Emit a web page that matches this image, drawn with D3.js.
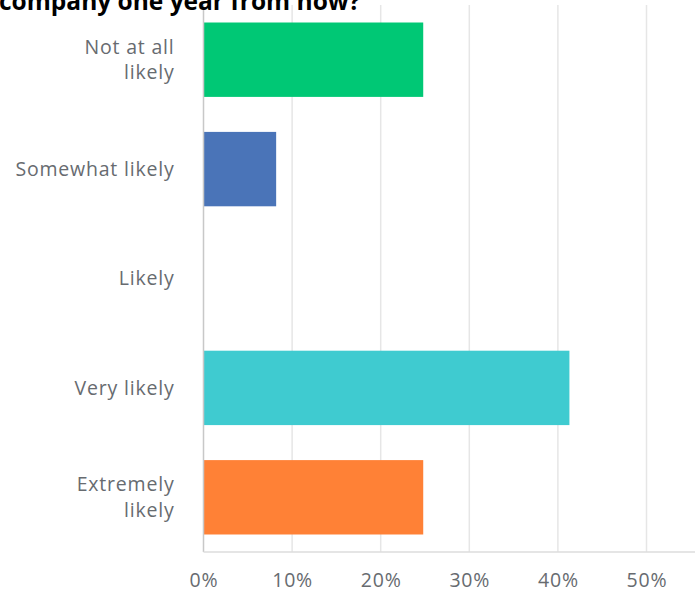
<!DOCTYPE html>
<meta charset="utf-8">
<style>
body { margin: 0; background: #fff; }
svg { display: block; }
.title { font-family: "Open Sans", sans-serif; font-weight: 700; font-size: 24.5px; fill: #000; }
.cat { font-family: "Open Sans", sans-serif; font-size: 19.5px; letter-spacing: 0.8px; fill: #676b70; }
.axis text { font-family: "Open Sans", sans-serif; font-size: 19.5px; letter-spacing: 0.8px; fill: #676b70; }
.grid line { stroke: #e6e6e6; stroke-width: 1.5px; }
</style>
<svg width="695" height="592"></svg>
<script src="https://cdnjs.cloudflare.com/ajax/libs/d3/7.8.5/d3.min.js"></script>
<script>
// answer choices (two-line labels split on "|")
var categories = ["Not at all|likely", "Somewhat likely", "Likely", "Very likely", "Extremely|likely"];
var values = [24.8, 8.2, 0, 41.3, 24.8];
var colors = ["#00c875", "#4a74b8", "#c0c0c0", "#3fcbd0", "#ff8136"];
var ticks = [0, 10, 20, 30, 40, 50];

var svg = d3.select("svg"),
    margin = {top: 5, right: 0, bottom: 40, left: 203.5},
    width = +svg.attr("width") - margin.left - margin.right,
    height = +svg.attr("height") - margin.top - margin.bottom,
    g = svg.append("g").attr("transform", "translate(" + margin.left + "," + margin.top + ")");

var x = d3.scaleLinear()
    .domain([0, 55])
    .range([0, 88.6 * 5.5]);

var y = d3.scaleBand()
    .domain(categories)
    .range([0, height])
    .paddingInner(0.32)
    .paddingOuter(0.16);

// title, cut off at the top of the picture
svg.append("text")
    .attr("class", "title")
    .attr("x", -1)
    .attr("y", 10)
    .text("company one year from now?");

// vertical grid lines
g.append("g")
    .attr("class", "grid")
  .selectAll("line")
  .data(ticks.slice(1))
  .enter().append("line")
    .attr("x1", function(d) { return x(d); })
    .attr("x2", function(d) { return x(d); })
    .attr("y1", 0)
    .attr("y2", height);

g.selectAll(".bar")
  .data(values)
  .enter().append("rect")
    .attr("class", "bar")
    .attr("x", 0)
    .attr("y", function(d, i) { return y(categories[i]); })
    .attr("width", function(d) { return x(d); })
    .attr("height", y.bandwidth())
    .attr("fill", function(d, i) { return colors[i]; });

// axis lines
g.append("line")
    .attr("x1", 0).attr("x2", 0)
    .attr("y1", 0).attr("y2", height)
    .attr("stroke", "#c8c8c8").attr("stroke-width", 1.5);
g.append("line")
    .attr("x1", 0).attr("x2", width)
    .attr("y1", height).attr("y2", height)
    .attr("stroke", "#dcdcdc").attr("stroke-width", 1.5);

var xAxis = g.append("g")
    .attr("class", "axis")
    .attr("transform", "translate(0," + height + ")")
    .call(d3.axisBottom(x).tickValues(ticks).tickSize(0).tickPadding(21)
      .tickFormat(function(d) { return d + "%"; }));
xAxis.select(".domain").remove();

// category labels
var labels = g.selectAll(".cat")
  .data(categories)
  .enter().append("text")
    .attr("class", "cat")
    .attr("text-anchor", "end")
    .attr("x", -29)
    .attr("y", function(d) { return y(d) + y.bandwidth() / 2; });

labels.each(function(d) {
  var parts = d.split("|"),
      t = d3.select(this);
  parts.forEach(function(p, i) {
    t.append("tspan")
      .attr("x", -29)
      .attr("dy", i == 0 ? (0.35 - (parts.length - 1) * 0.65) + "em" : "1.3em")
      .text(p);
  });
});
</script>
